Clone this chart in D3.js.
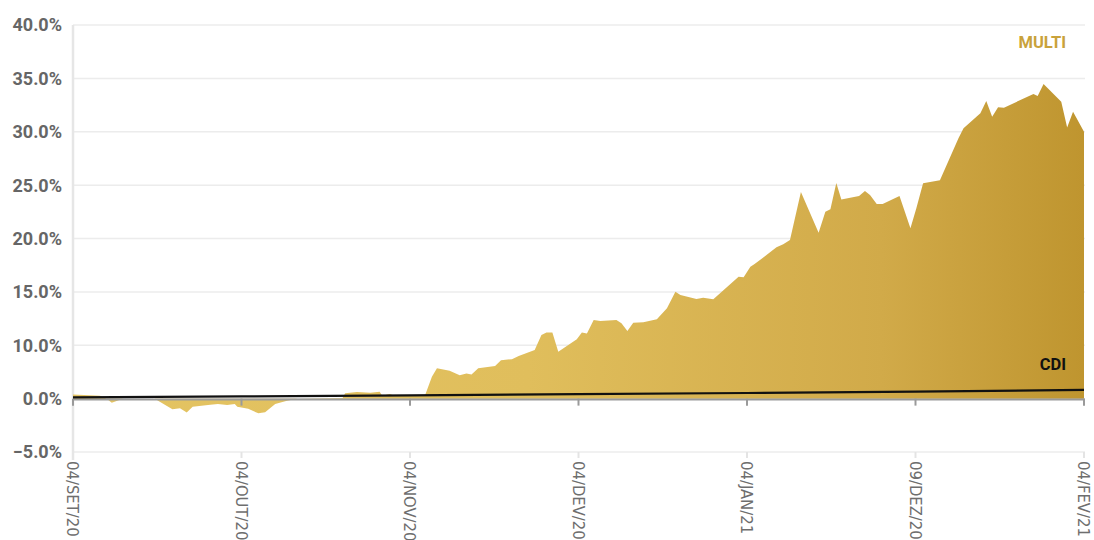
<!DOCTYPE html>
<html>
<head>
<meta charset="utf-8">
<script src="https://cdn.jsdelivr.net/npm/d3@7"></script>
<style>
  html, body { margin: 0; padding: 0; background: #fff; }
  svg { display: block; }
</style>
</head>
<body>
<svg id="chart"></svg>
<script>
// tick labels as printed on the chart
var yTicks = [-5, 0, 10, 15, 20, 25, 30, 35, 40];
var xTickPos = [0, 20, 40, 60, 80, 100, 120];
var xTickLabels = ['04/SET/20', '04/OUT/20', '04/NOV/20', '04/DEV/20', '04/JAN/21', '09/DEZ/20', '04/FEV/21'];

// MULTI: position along the axis, return (%)
var multiPos = [0, 3.2, 4, 4.6, 5.9, 9.7, 11.8, 12.7, 13.5, 14.2, 16.3, 17.2, 18.3, 19.2, 19.5, 20.8, 22, 22.8, 24, 25.4,
	26.6, 32, 32.3, 33.7, 35.3, 36.4, 36.7, 37.6, 38.2, 41.8, 42.6, 43.2, 44.7, 45.9, 46.7, 47.3, 48.1, 50.1, 50.8, 52.1,
	52.9, 54.8, 55.6, 56.2, 56.9, 57.6, 59.8, 60.4, 61, 61.8, 62.6, 64.5, 65.1, 65.8, 66.5, 67.7, 69.3, 70.5, 71.5, 72.1,
	74, 74.8, 76, 79, 79.6, 80.4, 80.9, 83.5, 84.3, 85.1, 86.4, 88.5, 89.3, 89.9, 90.6, 91.2, 93.3, 94, 94.6, 95.4,
	96.1, 98.1, 99.4, 100.1, 100.9, 102.9, 105.1, 105.7, 107.7, 108.4, 109.1, 109.8, 110.5, 114, 114.5, 115.2, 117.3, 118, 118.7, 120];
var multiVal = [0.75, 0.55, 0, -0.38, 0, 0, -1.0, -0.9, -1.3, -0.76, -0.57, -0.5, -0.6, -0.5, -0.76, -0.95, -1.38, -1.28, -0.5, -0.2,
	0, 0.1, 1.0, 1.24, 1.1, 1.3, 0.55, 0.86, 0.5, 0.7, 4.1, 5.7, 5.2, 4.4, 4.7, 4.5, 5.7, 6.1, 7.2, 7.4,
	8.0, 9.1, 10.96, 11.2, 11.2, 8.8, 10.56, 11.2, 11.1, 12.37, 12.27, 12.37, 12.05, 11.33, 12.1, 12.15, 12.43, 13.46, 15.02, 14.7,
	14.33, 14.45, 14.3, 16.42, 16.36, 17.36, 17.6, 19.17, 19.45, 19.86, 24.35, 20.55, 22.5, 22.73, 25.2, 23.65, 23.98, 24.45, 24.07, 23.24,
	23.24, 23.98, 20.95, 22.83, 25.17, 25.46, 29.39, 30.32, 31.73, 32.88, 31.41, 32.29, 32.25, 33.54, 33.35, 34.47, 32.81, 30.4, 31.88, 30.0];

// CDI, read at each date tick
var cdiPos = [0, 20, 40, 60, 80, 100, 120];
var cdiVal = [0.25, 0.42, 0.62, 0.84, 1.05, 1.3, 1.65];

var W = 1094, H = 540;
var plotLeft = 73, plotRight = 1084, plotTop = 25, plotBottom = 452;
var step = (plotBottom - plotTop) / (yTicks.length - 1);

var svg = d3.select('#chart').attr('width', W).attr('height', H);

var x = d3.scaleLinear().domain([0, 120]).range([plotLeft, plotRight]);
// gridlines are evenly spaced even though the printed labels skip 5%
var y = d3.scaleLinear().domain(yTicks).range(yTicks.map((d, i) => plotBottom - i * step));

var defs = svg.append('defs');
var grad = defs.append('linearGradient')
	.attr('id', 'gold')
	.attr('gradientUnits', 'userSpaceOnUse')
	.attr('x1', plotLeft).attr('x2', plotRight).attr('y1', 0).attr('y2', 0);
grad.append('stop').attr('offset', '0%').attr('stop-color', '#e4c463');
grad.append('stop').attr('offset', '45%').attr('stop-color', '#e0be5c');
grad.append('stop').attr('offset', '80%').attr('stop-color', '#d1aa49');
grad.append('stop').attr('offset', '100%').attr('stop-color', '#bf952f');

// grid
svg.append('g')
	.selectAll('line')
	.data(yTicks)
	.enter()
	.append('line')
	.attr('x1', plotLeft).attr('x2', plotRight + 1)
	.attr('y1', (d) => y(d)).attr('y2', (d) => y(d))
	.attr('stroke', '#ececec')
	.attr('stroke-width', 1.5);

// small ticks on the bottom gridline
svg.append('g')
	.selectAll('line')
	.data(xTickPos)
	.enter()
	.append('line')
	.attr('x1', (d) => x(d)).attr('x2', (d) => x(d))
	.attr('y1', plotBottom).attr('y2', plotBottom + 6)
	.attr('stroke', '#e4e4e4')
	.attr('stroke-width', 2);

// left axis line
svg.append('line')
	.attr('x1', plotLeft).attr('x2', plotLeft)
	.attr('y1', plotTop).attr('y2', plotBottom + 8)
	.attr('stroke', '#e6e6e6')
	.attr('stroke-width', 2.5);

// y labels
svg.append('g')
	.selectAll('text')
	.data(yTicks)
	.enter()
	.append('text')
	.attr('x', 62)
	.attr('y', (d) => y(d))
	.attr('dy', '0.36em')
	.attr('text-anchor', 'end')
	.style('font-family', 'Roboto, "Liberation Sans", sans-serif')
	.style('font-weight', '700')
	.style('font-size', '18px')
	.style('fill', '#666')
	.text((d) => d3.format('.1f')(d) + '%');

// MULTI area
var multi = multiPos.map((p, i) => ({ p: p, v: multiVal[i] }));
var area = d3.area().x((d) => x(d.p)).y0(y(0)).y1((d) => y(d.v)).curve(d3.curveLinear);
svg.append('path')
	.datum(multi)
	.attr('d', area)
	.attr('fill', 'url(#gold)');

// zero axis with ticks
svg.append('line')
	.attr('x1', plotLeft).attr('x2', plotRight + 1)
	.attr('y1', y(0) + 0.8).attr('y2', y(0) + 0.8)
	.attr('stroke', '#9a9a9a')
	.attr('stroke-width', 2);
svg.append('g')
	.selectAll('line')
	.data(xTickPos)
	.enter()
	.append('line')
	.attr('x1', (d) => x(d)).attr('x2', (d) => x(d))
	.attr('y1', y(0)).attr('y2', y(0) + 7)
	.attr('stroke', '#9a9a9a')
	.attr('stroke-width', 2);

// CDI line
var cdi = cdiPos.map((p, i) => ({ p: p, v: cdiVal[i] }));
var line = d3.line().x((d) => x(d.p)).y((d) => y(d.v)).curve(d3.curveLinear);
svg.append('path')
	.datum(cdi)
	.attr('d', line)
	.attr('fill', 'none')
	.attr('stroke', '#111')
	.attr('stroke-width', 2.2);

// x labels, rotated
svg.append('g')
	.selectAll('text')
	.data(xTickPos)
	.enter()
	.append('text')
	.attr('transform', (d) => 'translate(' + x(d) + ',' + (plotBottom + 9) + ') rotate(90)')
	.attr('dy', '0.36em')
	.attr('text-anchor', 'start')
	.style('font-family', '"Liberation Sans Narrow", "DejaVu Sans Condensed", sans-serif')
	.style('font-size', '16.5px')
	.style('fill', '#6e6e6e')
	.text((d, i) => xTickLabels[i]);

// series labels
svg.append('text')
	.attr('x', 1066).attr('y', 48)
	.attr('text-anchor', 'end')
	.style('font-family', 'Roboto, "Liberation Sans", sans-serif')
	.style('font-weight', '700')
	.style('font-size', '16.5px')
	.style('fill', '#c9a23b')
	.text('MULTI');

svg.append('text')
	.attr('x', 1066).attr('y', 370)
	.attr('text-anchor', 'end')
	.style('font-family', 'Roboto, "Liberation Sans", sans-serif')
	.style('font-weight', '700')
	.style('font-size', '16.5px')
	.style('fill', '#111')
	.text('CDI');
</script>
</body>
</html>
